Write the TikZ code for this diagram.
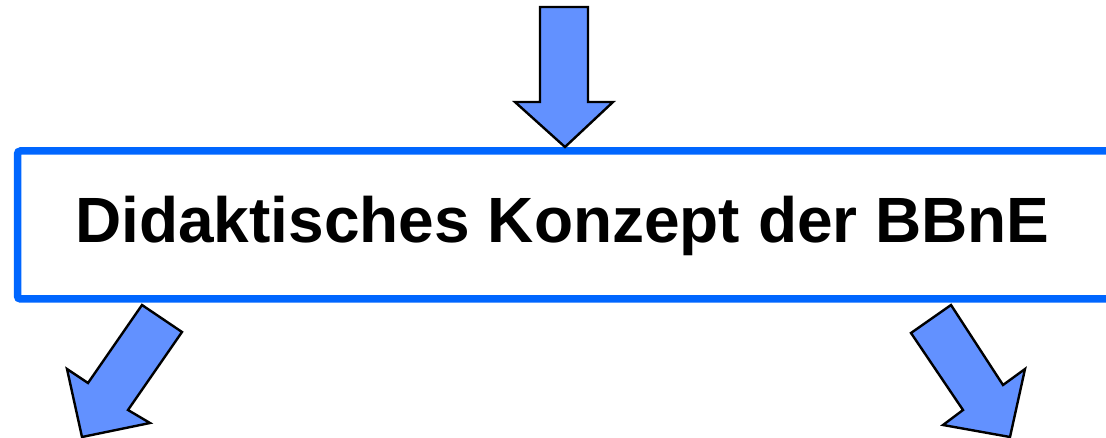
\documentclass[tikz,border=0pt]{standalone}
\usepackage{fontspec}
\setmainfont{Liberation Sans}
\definecolor{frameblue}{RGB}{0,102,255}
\definecolor{arrowfill}{RGB}{98,145,255}
\begin{document}
\begin{tikzpicture}[x=1pt,y=-1pt,
  blockarrow/.style={draw=black, fill=arrowfill, line width=2.4pt, line join=miter},
  frame/.style={draw=frameblue, line width=7.5pt, rounded corners=3pt, inner sep=0pt},
  title/.style={font=\bfseries\fontsize{64}{70}\selectfont, inner sep=0pt, anchor=base}]
  \useasboundingbox (0,0) rectangle (1106,438);
  \clip (0,0) rectangle (1106,438);
  % framed title bar, running off the right edge
  \node[frame, minimum width=1102.5pt, minimum height=148pt] (bar) at (568.75,225) {};
  \node[title] (caption) at (562.5,243) {Didaktisches Konzept der BBnE};
  % incoming arrow from above
  \draw[blockarrow] (540,7) -- (588,7) -- (588,102) -- (613,102) -- (565,147)
    -- (515,102) -- (540,102) -- cycle;
  % outgoing arrow to the lower left
  \draw[blockarrow] (142,305) -- (182,332) -- (128,410) -- (150,423) -- (82,437)
    -- (67,369) -- (88,383) -- cycle;
  % outgoing arrow to the lower right
  \draw[blockarrow] (951,305) -- (911,333) -- (963,410) -- (943,425) -- (1010,437)
    -- (1025,369) -- (1003,385) -- cycle;
\end{tikzpicture}
\end{document}
